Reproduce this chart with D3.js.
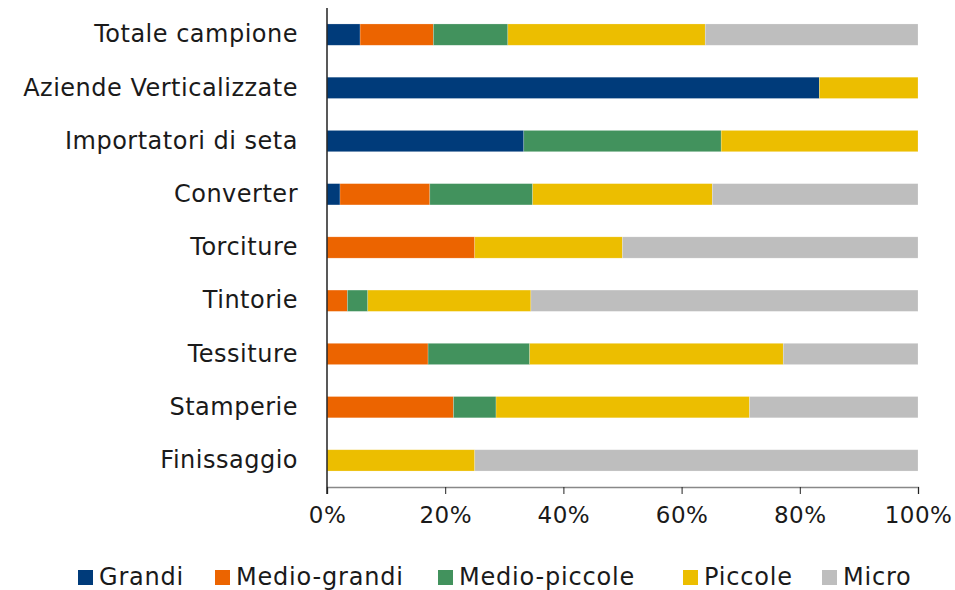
<!DOCTYPE html>
<html>
<head>
<meta charset="utf-8">
<script src="https://cdn.jsdelivr.net/npm/d3@7"></script>
<style>
  body { margin: 0; background: #fff; }
  text { font-family: "DejaVu Sans", sans-serif; fill: #1a1a1a; }
</style>
</head>
<body>
<script>
// categories top to bottom
var categories = ["Totale campione", "Aziende Verticalizzate", "Importatori di seta", "Converter",
  "Torciture", "Tintorie", "Tessiture", "Stamperie", "Finissaggio"];
var series = ["Grandi", "Medio-grandi", "Medio-piccole", "Piccole", "Micro"];
var colors = ["#003b7a", "#ec6400", "#42925d", "#ecbe00", "#bebebe"];

// share (%) per category, same order as categories
var grandi       = [5.6, 83.3, 33.3, 2.2, 0, 0, 0, 0, 0];
var medioGrandi  = [12.4, 0, 0, 15.2, 25.0, 3.45, 17.1, 21.4, 0];
var medioPiccole = [12.6, 0, 33.4, 17.4, 0, 3.45, 17.2, 7.2, 0];
var piccole      = [33.4, 16.7, 33.3, 30.4, 25.0, 27.6, 42.9, 42.9, 25.0];
var micro        = [36.0, 0, 0, 34.8, 50.0, 65.5, 22.8, 28.5, 75.0];
var tickVals = [0, 20, 40, 60, 80, 100];

var width = 955, height = 590;
var margin = {top: 8, left: 327, right: 37, bottom: 103};

var svg = d3.select("body").append("svg")
  .attr("width", width)
  .attr("height", height);

var rows = categories.map(function(c, i) {
  return {cat: c, Grandi: grandi[i], "Medio-grandi": medioGrandi[i], "Medio-piccole": medioPiccole[i],
    Piccole: piccole[i], Micro: micro[i]};
});
var stacked = d3.stack().keys(series)(rows);

var x = d3.scaleLinear().domain([0, 100]).range([margin.left, width - margin.right]);
var y = d3.scaleBand().domain(categories).range([margin.top, height - margin.bottom]).paddingInner(0.6).paddingOuter(0.3);
var color = d3.scaleOrdinal().domain(series).range(colors);

svg.append("g").selectAll("g")
  .data(stacked)
  .join("g")
  .attr("fill", function(d) { return color(d.key); })
  .selectAll("rect")
  .data(function(d) { return d; })
  .join("rect")
  .attr("x", function(d) { return x(d[0]); })
  .attr("y", function(d) { return y(d.data.cat); })
  .attr("width", function(d) { return Math.max(0, x(d[1]) - x(d[0])); })
  .attr("height", y.bandwidth())
  .attr("stroke", "#fff")
  .attr("stroke-opacity", 0.35)
  .attr("stroke-width", 0.6);

// x axis
var xAxis = svg.append("g")
  .attr("transform", "translate(0," + (height - margin.bottom) + ")")
  .call(d3.axisBottom(x).tickValues(tickVals).tickSize(7).tickPadding(13)
    .tickFormat(function(d) { return d + "%"; }));
xAxis.select(".domain").attr("stroke", "#888").attr("stroke-width", 1.5);
xAxis.selectAll(".tick line").attr("stroke", "#222");
xAxis.selectAll("text").style("font-size", "23px").style("letter-spacing", "0.5px").attr("fill", "#1a1a1a");

// y axis
var yAxis = svg.append("g")
  .attr("transform", "translate(" + margin.left + ",0)")
  .call(d3.axisLeft(y).tickSize(0).tickPadding(29));
yAxis.select(".domain").remove();
yAxis.selectAll("text").style("font-size", "24px").style("letter-spacing", "0.5px").attr("fill", "#1a1a1a");
svg.append("line")
  .attr("x1", margin.left).attr("x2", margin.left)
  .attr("y1", margin.top).attr("y2", height - margin.bottom + 7)
  .attr("stroke", "#222").attr("stroke-width", 1.5);

// legend
var legendX = [78, 215, 438, 683, 822];
var legend = svg.append("g").selectAll("g")
  .data(series)
  .join("g")
  .attr("transform", function(d, i) { return "translate(" + legendX[i] + ",570)"; });
legend.append("rect").attr("width", 15).attr("height", 15)
  .attr("fill", function(d) { return color(d); });
legend.append("text").attr("x", 21).attr("y", 15)
  .style("font-size", "24px")
  .style("letter-spacing", "0.8px")
  .text(function(d) { return d; });
</script>
</body>
</html>
